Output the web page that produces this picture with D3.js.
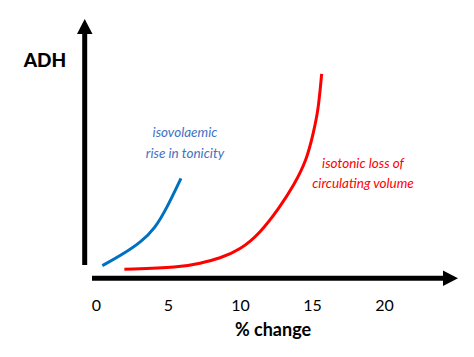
<!DOCTYPE html>
<html><head><meta charset="utf-8">
<script src="https://cdn.jsdelivr.net/npm/d3@7"></script>
<style>html,body{margin:0;padding:0;background:#fff;}svg{display:block;}</style>
</head><body>
<svg id="c" width="474" height="357"></svg>
<script>
const xTicks = [0, 5, 10, 15, 20];
const blueX = [0.44, 1.78, 3.17, 4.10, 4.91, 5.90];
const blueY = [0.48, 0.89, 1.41, 1.93, 2.70, 3.86];
const redX = [1.97, 5.83, 7.22, 8.61, 10.0, 11.39, 12.78, 13.75, 14.63, 15.09, 15.44, 15.67];
const redY = [0.34, 0.41, 0.57, 0.76, 1.09, 1.73, 2.76, 3.60, 4.57, 5.61, 6.51, 7.91];
const blueLabel = ["isovolaemic", "rise in tonicity"];
const redLabel = ["isotonic loss of", "circulating volume"];
const xTitle = "% change";
const yTitle = "ADH";

const svg = d3.select("#c");
const x = d3.scaleLinear().domain([0, 20]).range([96, 384]);
const y = d3.scaleLinear().domain([0, 10]).range([278, 20]);

// axes (arrows)
svg.append("line").attr("x1", 84.7).attr("x2", 84.7).attr("y1", 265).attr("y2", 32)
  .attr("stroke", "#000").attr("stroke-width", 5);
svg.append("path").attr("d", "M77,34 L92.5,34 L84.7,19 Z").attr("fill", "#000");
svg.append("line").attr("x1", 92).attr("x2", 445).attr("y1", 278.3).attr("y2", 278.3)
  .attr("stroke", "#000").attr("stroke-width", 5);
svg.append("path").attr("d", "M443,270.5 L443,286 L458,278.3 Z").attr("fill", "#000");

// tick labels via axis
const ax = svg.append("g").attr("transform", "translate(0,300)")
  .call(d3.axisBottom(x).tickValues(xTicks).tickSize(0).tickPadding(0).tickFormat(d3.format("d")));
ax.select(".domain").remove();
ax.selectAll("text").attr("font-family", "Lato, sans-serif").attr("font-size", 16)
  .attr("fill", "#000").attr("dy", "0.32em").attr("y", 6);

svg.append("text").attr("x", 273).attr("y", 336).attr("text-anchor", "middle")
  .attr("font-family", "Lato, sans-serif").attr("font-weight", "bold").attr("font-size", 18)
  .text(xTitle);
svg.append("text").attr("x", 45).attr("y", 67).attr("text-anchor", "middle")
  .attr("font-family", "Lato, sans-serif").attr("font-weight", "900").attr("font-size", 19)
  .text(yTitle);

const line = d3.line().x(d => x(d[0])).y(d => y(d[1])).curve(d3.curveBasis);
svg.append("path").datum(blueX.map((v, i) => [v, blueY[i]])).attr("d", line)
  .attr("fill", "none").attr("stroke", "#0070C0").attr("stroke-width", 3).attr("stroke-linecap", "butt");
svg.append("path").datum(redX.map((v, i) => [v, redY[i]])).attr("d", line)
  .attr("fill", "none").attr("stroke", "#FF0000").attr("stroke-width", 3).attr("stroke-linecap", "butt");

blueLabel.forEach((t, i) => svg.append("text").attr("x", 185).attr("y", 137 + i * 21)
  .attr("text-anchor", "middle").attr("font-family", "Lato, sans-serif").attr("font-style", "italic")
  .attr("font-size", 13.5).attr("fill", "#4472C4").text(t));
redLabel.forEach((t, i) => svg.append("text").attr("x", 363).attr("y", 168 + i * 20)
  .attr("text-anchor", "middle").attr("font-family", "Lato, sans-serif").attr("font-style", "italic")
  .attr("font-size", 13.5).attr("fill", "#FF0000").text(t));
</script>
</body></html>
